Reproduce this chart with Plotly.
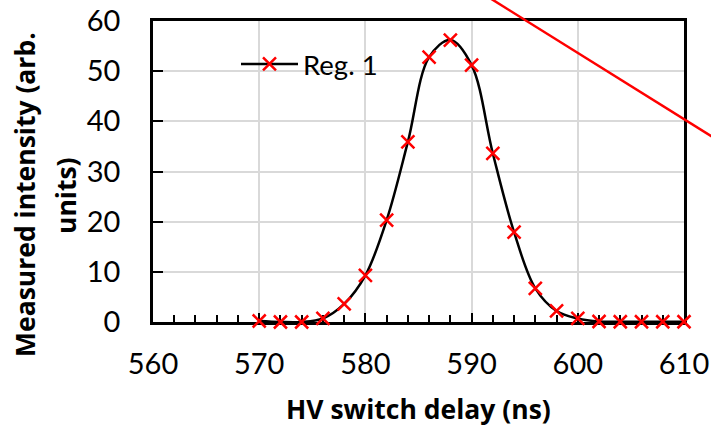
import plotly.graph_objects as go

# ---- data ----
delay_ns = [570, 572, 574, 576, 578, 580, 582, 584, 586, 588, 590,
            592, 594, 596, 598, 600, 602, 604, 606, 608, 610]
intensity = [0.2, 0.0, 0.0, 0.7, 3.6, 9.3, 20.3, 35.9, 52.8, 56.2, 51.2,
             33.6, 17.9, 6.7, 2.2, 0.7, 0.1, 0.05, 0.05, 0.05, 0.05]
series_name = "Reg. 1"
x_ticks = [560, 570, 580, 590, 600, 610]
y_ticks = [0, 10, 20, 30, 40, 50, 60]

# plot area in pixels (for paper-coordinate helpers)
L, R, T, B = 153, 684, 21, 322
W, H = 711, 427


def px(x):
    return (x - L) / (R - L)


def py(y):
    return (B - y) / (B - T)


FONT = "Lato"
TFONT = "Open Sans"

fig = go.Figure()
fig.add_trace(go.Scatter(
    x=delay_ns, y=intensity, name=series_name,
    mode="lines+markers",
    line=dict(color="black", width=2.5, shape="spline", smoothing=1.0),
    marker=dict(symbol="x-thin", size=13, color="red",
                line=dict(color="red", width=2.5)),
    cliponaxis=False,
))

# red diagonal line (decoration crossing the top-right corner)
fig.add_shape(type="line", xref="paper", yref="paper",
              x0=px(449.4), y0=py(-27.2), x1=px(754.6), y1=py(163.2),
              line=dict(color="red", width=2.5))

tfont = dict(family=TFONT, size=26.5, color="black", weight="bold")
# y-axis title (two lines)
fig.add_annotation(text="Measured intensity (arb.", xref="paper", yref="paper",
                   x=px(25), y=py(195), textangle=-90, showarrow=False,
                   font=tfont, xanchor="center", yanchor="middle")
fig.add_annotation(text="units)", xref="paper", yref="paper",
                   x=px(66), y=py(196), textangle=-90, showarrow=False,
                   font=tfont, xanchor="center", yanchor="middle")
# x-axis title
fig.add_annotation(text="HV switch delay (ns)", xref="paper", yref="paper",
                   x=0.5, y=py(409), showarrow=False,
                   font=tfont, xanchor="center", yanchor="middle")

fig.update_layout(
    width=W, height=H,
    margin=dict(l=L, r=W - R, t=T, b=H - B, autoexpand=False),
    paper_bgcolor="white", plot_bgcolor="white",
    font=dict(family=FONT, size=29, color="black"),
    showlegend=True,
    legend=dict(x=px(236), y=py(64), xanchor="left", yanchor="middle",
                bgcolor="rgba(0,0,0,0)", borderwidth=0,
                font=dict(family=FONT, size=27.5, color="black"),
                itemwidth=57),
)
fig.update_xaxes(
    range=[560, 610], tickvals=x_ticks, ticktext=[str(v) for v in x_ticks],
    showgrid=True, gridcolor="#d9d9d9", gridwidth=1.5,
    showline=True, linecolor="black", linewidth=2.5, mirror=True,
    ticks="inside", ticklen=9, tickwidth=2, tickcolor="black",
    minor=dict(dtick=2, ticks="inside", ticklen=7, tickwidth=2, tickcolor="black",
               showgrid=False),
    ticklabelstandoff=14, zeroline=False, layer="below traces", automargin=False,
)
fig.update_yaxes(
    range=[0, 60], tickvals=y_ticks, ticktext=[str(v) for v in y_ticks],
    showgrid=True, gridcolor="#d9d9d9", gridwidth=1.5,
    showline=True, linecolor="black", linewidth=2.5, mirror=True,
    ticks="inside", ticklen=10, tickwidth=2, tickcolor="black",
    ticklabelstandoff=24, zeroline=False, layer="below traces", automargin=False,
)

fig.write_html("out.html", config={"displayModeBar": False},
               post_script="document.body.style.margin='0';document.body.style.padding='0';"
                           "document.body.style.overflow='hidden';")
